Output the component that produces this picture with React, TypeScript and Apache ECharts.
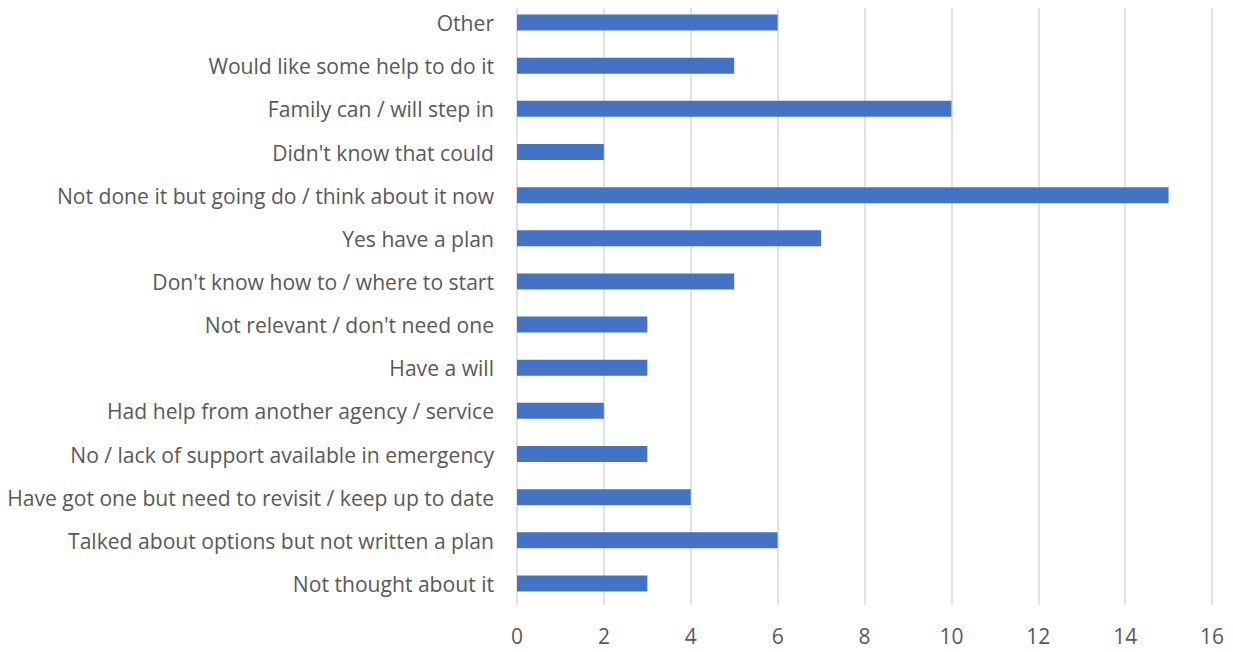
import React, { useEffect, useRef } from "react";
import * as echarts from "echarts";

const categories = [
  "Not thought about it",
  "Talked about options but not written a plan",
  "Have got one but need to revisit / keep up to date",
  "No / lack of support available in emergency",
  "Had help from another agency / service",
  "Have a will",
  "Not relevant / don't need one",
  "Don't know how to / where to start",
  "Yes have a plan",
  "Not done it but going do / think about it now",
  "Didn't know that could",
  "Family can / will step in",
  "Would like some help to do it",
  "Other",
];
const values = [3, 6, 4, 3, 2, 3, 3, 5, 7, 15, 2, 10, 5, 6];

export default function App() {
  const ref = useRef<HTMLDivElement>(null);
  useEffect(() => {
    const chart = echarts.init(ref.current!, null, { renderer: "svg" });
    chart.setOption({
      animation: false,
      grid: { left: 517, right: 21, top: 1, bottom: 47, containLabel: false },
      xAxis: {
        type: "value",
        min: 0,
        max: 16,
        interval: 2,
        axisLine: { show: false },
        axisTick: { show: false },
        splitLine: { lineStyle: { color: "#D9D9D9", width: 1.5 } },
        axisLabel: { color: "#595959", fontSize: 21, fontFamily: "Open Sans", margin: 20 },
      },
      yAxis: {
        type: "category",
        data: categories,
        axisLine: { show: false },
        axisTick: { show: false },
        axisLabel: { color: "#595959", fontSize: 21.1, fontFamily: "Open Sans", margin: 23 },
      },
      series: [
        {
          type: "bar",
          data: values,
          barWidth: 16,
          itemStyle: { color: "#4472C4" },
        },
      ],
    });
    return () => chart.dispose();
  }, []);
  return <div ref={ref} style={{ width: 1233, height: 652, margin: -8 }} />;
}
